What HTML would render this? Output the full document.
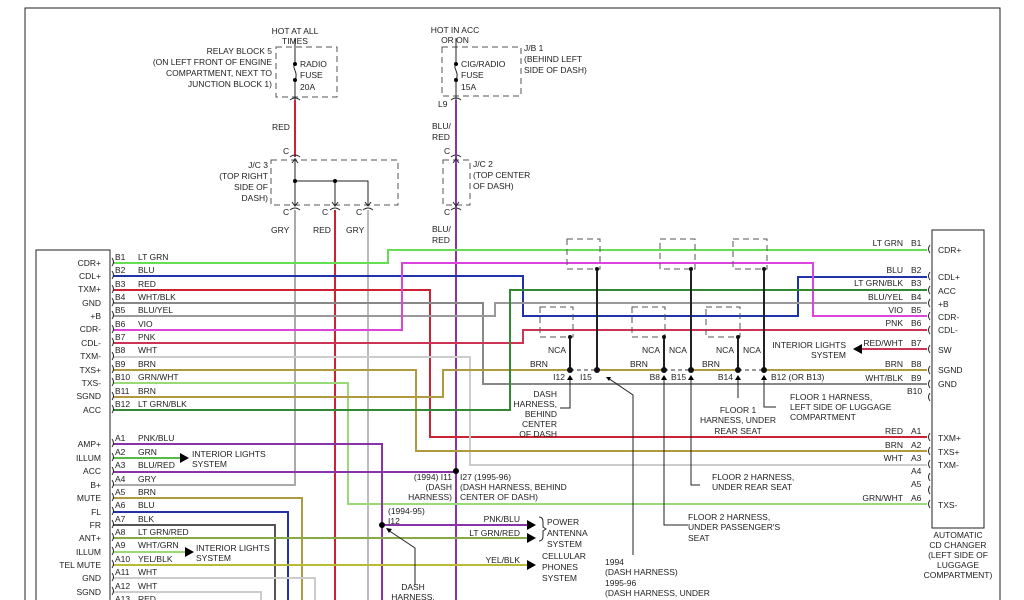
<!DOCTYPE html>
<html><head><meta charset="utf-8"><style>
html,body{margin:0;padding:0;background:#fff;width:1024px;height:600px;overflow:hidden}
svg{display:block}
text{font-family:"Liberation Sans",sans-serif;font-size:8.5px;fill:#222}
.r{text-anchor:end}.m{text-anchor:middle}
.d{fill:none;stroke:#555;stroke-width:1;stroke-dasharray:6,4}
.w{fill:none;stroke-width:2}
.k{fill:none;stroke:#222;stroke-width:1}
</style></head><body>
<svg width="1024" height="600" viewBox="0 0 1024 600">
<!-- frame -->
<path d="M25,600V8H1000V600" class="k"/>
<rect x="36" y="250" width="74" height="360" class="k"/>
<rect x="932" y="230" width="52" height="298" class="k"/>

<!-- top fuses -->
<text x="295" y="34" class="m">HOT AT ALL</text><text x="295" y="44" class="m">TIMES</text>
<rect x="276" y="47" width="61" height="50" class="d"/>
<text x="272" y="54" class="r">RELAY BLOCK 5</text><text x="272" y="65" class="r">(ON LEFT FRONT OF ENGINE</text>
<text x="272" y="76" class="r">COMPARTMENT, NEXT TO</text><text x="272" y="87" class="r">JUNCTION BLOCK 1)</text>
<path d="M295,38V64M295,80V100" class="k"/><path d="M295,64c-4,4 4,8 0,16" class="k"/>
<circle cx="295" cy="64" r="2"/><circle cx="295" cy="80" r="2"/>
<text x="300" y="67">RADIO</text><text x="300" y="78">FUSE</text><text x="300" y="90">20A</text>
<path d="M290,100q5,-4 10,0" class="k"/>
<path d="M295,100V157" stroke="#cc2233" stroke-width="2"/>
<text x="272" y="130">RED</text><text x="283" y="154">C</text>
<path d="M290,157q5,-4 10,0" class="k"/>
<rect x="271" y="160" width="127" height="45" class="d"/>
<text x="268" y="168" class="r">J/C 3</text><text x="268" y="179" class="r">(TOP RIGHT</text><text x="268" y="190" class="r">SIDE OF</text><text x="268" y="201" class="r">DASH)</text>
<path d="M295,158V206M295,181H368V206M335,181V206" class="k"/>
<circle cx="295" cy="181" r="2"/><circle cx="335" cy="181" r="2"/>
<path d="M292,163l3,-4 3,4M292,202l3,4 3,-4M332,202l3,4 3,-4M365,202l3,4 3,-4" class="k"/>
<path d="M290,210q5,-4 10,0M330,210q5,-4 10,0M363,210q5,-4 10,0" class="k"/>
<text x="283" y="215">C</text><text x="322" y="215">C</text><text x="356" y="215">C</text>
<text x="271" y="233">GRY</text><text x="313" y="233">RED</text><text x="346" y="233">GRY</text>

<text x="455" y="33" class="m">HOT IN ACC</text><text x="455" y="43" class="m">OR ON</text>
<rect x="442" y="47" width="79" height="49" class="d"/>
<text x="524" y="51">J/B 1</text><text x="524" y="62">(BEHIND LEFT</text><text x="524" y="73">SIDE OF DASH)</text>
<path d="M456,38V64M456,80V100" class="k"/><path d="M456,64c-4,4 4,8 0,16" class="k"/>
<circle cx="456" cy="64" r="2"/><circle cx="456" cy="80" r="2"/>
<text x="461" y="67">CIG/RADIO</text><text x="461" y="78">FUSE</text><text x="461" y="90">15A</text>
<path d="M451,100q5,-4 10,0" class="k"/>
<text x="438" y="107">L9</text>
<text x="432" y="129">BLU/</text><text x="432" y="140">RED</text><text x="444" y="154">C</text>
<path d="M451,157q5,-4 10,0M451,210q5,-4 10,0" class="k"/>
<rect x="443" y="160" width="27" height="45" class="d"/>
<text x="473" y="167">J/C 2</text><text x="473" y="178">(TOP CENTER</text><text x="473" y="189">OF DASH)</text>
<text x="444" y="215">C</text>
<text x="432" y="232">BLU/</text><text x="432" y="243">RED</text>

<!-- verticals from top -->
<path d="M295,210V485H113" class="w" stroke="#aaa"/>
<path d="M335,210V600" class="w" stroke="#cc2233"/>
<path d="M368,210V600" class="w" stroke="#bbb"/>
<path d="M456,100V600" class="w" stroke="#8833aa"/>
<path d="M453,163l3,-4 3,4M453,202l3,4 3,-4" class="k"/>

<!-- B rows -->
<g font-size="8.5">
<path d="M113,263H388V250H927" class="w" stroke="#66dd55"/>
<path d="M113,276H523V316H798V277H927" class="w" stroke="#2233aa"/>
<path d="M113,290H430V437H927" class="w" stroke="#cc2233"/>
<path d="M113,303H483V384H927" class="w" stroke="#888"/>
<path d="M113,316H495V303H927" class="w" stroke="#999"/>
<path d="M113,330H402V263H813V316H927" class="w" stroke="#dd44dd"/>
<path d="M113,343H523V330H927" class="w" stroke="#cc3355"/>
<path d="M113,357H470V465H927" class="w" stroke="#ccc"/>
<path d="M113,370H416V451H927" class="w" stroke="#b09a40"/>
<path d="M113,383H348V504H927" class="w" stroke="#99d977"/>
<path d="M113,397H443V370H927" class="w" stroke="#b09a40"/>
<path d="M113,410H510V290H927" class="w" stroke="#338833"/>
<path d="M927,349H862" class="w" stroke="#cc3355"/>
<path d="M862,344l-9,5 9,5z"/>
</g>
<!-- shield boxes -->
<g>
<rect x="567" y="239" width="33" height="30" class="d"/><rect x="660" y="239" width="35" height="30" class="d"/><rect x="733" y="239" width="34" height="30" class="d"/>
<rect x="540" y="307" width="33" height="30" class="d"/><rect x="632" y="307" width="33" height="30" class="d"/><rect x="706" y="307" width="34" height="30" class="d"/>
<path d="M597,269V370M691,269V370M764,269V370M570,337V370M664,337V370M738,337V370" stroke="#222" stroke-width="2"/>
<path d="M570,370H597M664,370H691M738,370H764" stroke="#fff" stroke-width="3"/>
<path d="M570,370H597M664,370H691M738,370H764" stroke="#333" stroke-dasharray="4,3"/>
<g fill="#111"><circle cx="570" cy="370" r="3"/><circle cx="597" cy="370" r="3"/><circle cx="664" cy="370" r="3"/><circle cx="691" cy="370" r="3"/><circle cx="738" cy="370" r="3"/><circle cx="764" cy="370" r="3"/>
<circle cx="597" cy="269" r="2"/><circle cx="691" cy="269" r="2"/><circle cx="764" cy="269" r="2"/><circle cx="570" cy="337" r="2"/><circle cx="664" cy="337" r="2"/><circle cx="738" cy="337" r="2"/></g>
<text x="566" y="353" class="r">NCA</text><text x="660" y="353" class="r">NCA</text><text x="669" y="353">NCA</text><text x="734" y="353" class="r">NCA</text><text x="743" y="353">NCA</text>
<text x="530" y="367">BRN</text><text x="630" y="367">BRN</text><text x="702" y="367">BRN</text>
<text x="565" y="380" class="r">I12</text><text x="580" y="380">I15</text><text x="660" y="380" class="r">B8</text><text x="671" y="380">B15</text><text x="733" y="380" class="r">B14</text><text x="771" y="380">B12 (OR B13)</text>
<path d="M567,380l3,-5 3,5zM661,380l3,-5 3,5zM688,380l3,-5 3,5zM735,380l3,-5 3,5zM761,380l3,-5 3,5z"/>
<path d="M570,380V408H560M664,380V525H688M691,380V485H700M738,380V398M764,380V407H776M608,378L633,395V555" class="k"/>
<path d="M606,377l5,0 -2,4z"/>
<text x="557" y="397" class="r">DASH</text><text x="557" y="407" class="r">HARNESS,</text><text x="557" y="417" class="r">BEHIND</text><text x="557" y="427" class="r">CENTER</text><text x="557" y="437" class="r">OF DASH</text>
<text x="790" y="400">FLOOR 1 HARNESS,</text><text x="790" y="410">LEFT SIDE OF LUGGAGE</text><text x="790" y="420">COMPARTMENT</text>
<text x="738" y="413" class="m">FLOOR 1</text><text x="738" y="423" class="m">HARNESS, UNDER</text><text x="738" y="434" class="m">REAR SEAT</text>
<text x="712" y="480">FLOOR 2 HARNESS,</text><text x="712" y="490">UNDER REAR SEAT</text>
<text x="688" y="520">FLOOR 2 HARNESS,</text><text x="688" y="530">UNDER PASSENGER'S</text><text x="688" y="541">SEAT</text>
<text x="605" y="565">1994</text><text x="605" y="575">(DASH HARNESS)</text><text x="605" y="586">1995-96</text><text x="605" y="596">(DASH HARNESS, UNDER</text><text x="605" y="606">RIGHT FRONT SEAT)</text>
</g>

<!-- A rows -->
<path d="M113,444H382V600" class="w" stroke="#8833aa"/>
<path d="M382,525H527" class="w" stroke="#8833aa"/>
<path d="M113,458H180" class="w" stroke="#55bb44"/>
<path d="M113,472H456" class="w" stroke="#8833aa"/>
<path d="M113,498H302V600" class="w" stroke="#b09a40"/>
<path d="M113,512H288V600" class="w" stroke="#2233aa"/>
<path d="M113,525H275V600" class="w" stroke="#555"/>
<path d="M113,538H527" class="w" stroke="#88aa44"/>
<path d="M113,552H185" class="w" stroke="#99d977"/>
<path d="M113,565H527" class="w" stroke="#bbbb33"/>
<path d="M113,578H315V600" class="w" stroke="#ccc"/>
<path d="M113,592H261V600" class="w" stroke="#ccc"/>
<path d="M180,453l9,5 -9,5zM185,547l9,5 -9,5zM527,520l9,5 -9,5zM527,533l9,5 -9,5zM527,560l9,5 -9,5z"/>
<circle cx="456" cy="471" r="3"/><circle cx="382" cy="525" r="3"/>
<path d="M388,530L415,548V585" class="k"/><path d="M386,528l6,1 -3,4z"/>
<text x="192" y="457">INTERIOR LIGHTS</text><text x="192" y="467">SYSTEM</text>
<text x="196" y="551">INTERIOR LIGHTS</text><text x="196" y="561">SYSTEM</text>
<text x="452" y="480" class="r">(1994) I11</text><text x="452" y="490" class="r">(DASH</text><text x="452" y="500" class="r">HARNESS)</text>
<text x="460" y="480">I27 (1995-96)</text><text x="460" y="490">(DASH HARNESS, BEHIND</text><text x="460" y="500">CENTER OF DASH)</text>
<text x="388" y="514">(1994-95)</text><text x="388" y="524">I12</text>
<text x="413" y="590" class="m">DASH</text><text x="413" y="600" class="m">HARNESS,</text>
<text x="520" y="522" class="r">PNK/BLU</text><text x="520" y="536" class="r">LT GRN/RED</text><text x="520" y="563" class="r">YEL/BLK</text>
<text x="547" y="525">POWER</text><text x="547" y="536">ANTENNA</text><text x="547" y="547">SYSTEM</text>
<text x="542" y="559">CELLULAR</text><text x="542" y="570">PHONES</text><text x="542" y="581">SYSTEM</text>
<path d="M539,517q4,0 4,5v5l3,2 -3,2v5q0,5 -4,5" class="k"/>

<!-- left labels -->
<g>
<text x="101" y="266" class="r">CDR+</text><text x="101" y="279" class="r">CDL+</text><text x="101" y="292" class="r">TXM+</text><text x="101" y="306" class="r">GND</text>
<text x="101" y="319" class="r">+B</text><text x="101" y="332" class="r">CDR-</text><text x="101" y="346" class="r">CDL-</text><text x="101" y="359" class="r">TXM-</text>
<text x="101" y="373" class="r">TXS+</text><text x="101" y="386" class="r">TXS-</text><text x="101" y="399" class="r">SGND</text><text x="101" y="413" class="r">ACC</text>
<text x="101" y="447" class="r">AMP+</text><text x="101" y="461" class="r">ILLUM</text><text x="101" y="474" class="r">ACC</text><text x="101" y="488" class="r">B+</text>
<text x="101" y="501" class="r">MUTE</text><text x="101" y="515" class="r">FL</text><text x="101" y="528" class="r">FR</text><text x="101" y="541" class="r">ANT+</text>
<text x="101" y="555" class="r">ILLUM</text><text x="101" y="568" class="r">TEL MUTE</text><text x="101" y="581" class="r">GND</text><text x="101" y="595" class="r">SGND</text>
</g>
<g>
<text x="115" y="260">B1</text><text x="138" y="260">LT GRN</text><text x="115" y="273">B2</text><text x="138" y="273">BLU</text>
<text x="115" y="287">B3</text><text x="138" y="287">RED</text><text x="115" y="300">B4</text><text x="138" y="300">WHT/BLK</text>
<text x="115" y="313">B5</text><text x="138" y="313">BLU/YEL</text><text x="115" y="327">B6</text><text x="138" y="327">VIO</text>
<text x="115" y="340">B7</text><text x="138" y="340">PNK</text><text x="115" y="353">B8</text><text x="138" y="353">WHT</text>
<text x="115" y="367">B9</text><text x="138" y="367">BRN</text><text x="115" y="380">B10</text><text x="138" y="380">GRN/WHT</text>
<text x="115" y="394">B11</text><text x="138" y="394">BRN</text><text x="115" y="407">B12</text><text x="138" y="407">LT GRN/BLK</text>
<text x="115" y="441">A1</text><text x="138" y="441">PNK/BLU</text><text x="115" y="455">A2</text><text x="138" y="455">GRN</text>
<text x="115" y="468">A3</text><text x="138" y="468">BLU/RED</text><text x="115" y="482">A4</text><text x="138" y="482">GRY</text>
<text x="115" y="495">A5</text><text x="138" y="495">BRN</text><text x="115" y="508">A6</text><text x="138" y="508">BLU</text>
<text x="115" y="522">A7</text><text x="138" y="522">BLK</text><text x="115" y="535">A8</text><text x="138" y="535">LT GRN/RED</text>
<text x="115" y="548">A9</text><text x="138" y="548">WHT/GRN</text><text x="115" y="562">A10</text><text x="138" y="562">YEL/BLK</text>
<text x="115" y="575">A11</text><text x="138" y="575">WHT</text><text x="115" y="589">A12</text><text x="138" y="589">WHT</text>
<text x="115" y="602">A13</text><text x="138" y="602">RED</text>
</g>

<!-- right labels -->
<g>
<text x="903" y="246" class="r">LT GRN</text><text x="911" y="246">B1</text>
<text x="903" y="273" class="r">BLU</text><text x="911" y="273">B2</text>
<text x="903" y="286" class="r">LT GRN/BLK</text><text x="911" y="286">B3</text>
<text x="903" y="300" class="r">BLU/YEL</text><text x="911" y="300">B4</text>
<text x="903" y="313" class="r">VIO</text><text x="911" y="313">B5</text>
<text x="903" y="326" class="r">PNK</text><text x="911" y="326">B6</text>
<text x="903" y="346" class="r">RED/WHT</text><text x="911" y="346">B7</text>
<text x="846" y="348" class="r">INTERIOR LIGHTS</text><text x="846" y="358" class="r">SYSTEM</text>
<text x="903" y="367" class="r">BRN</text><text x="911" y="367">B8</text>
<text x="903" y="381" class="r">WHT/BLK</text><text x="911" y="381">B9</text>
<text x="907" y="394">B10</text>
<text x="903" y="434" class="r">RED</text><text x="911" y="434">A1</text>
<text x="903" y="448" class="r">BRN</text><text x="911" y="448">A2</text>
<text x="903" y="461" class="r">WHT</text><text x="911" y="461">A3</text>
<text x="911" y="474">A4</text><text x="911" y="487">A5</text>
<text x="903" y="501" class="r">GRN/WHT</text><text x="911" y="501">A6</text>
<text x="938" y="253">CDR+</text><text x="938" y="280">CDL+</text><text x="938" y="294">ACC</text><text x="938" y="307">+B</text>
<text x="938" y="320">CDR-</text><text x="938" y="333">CDL-</text><text x="938" y="353">SW</text><text x="938" y="373">SGND</text><text x="938" y="387">GND</text>
<text x="938" y="441">TXM+</text><text x="938" y="455">TXS+</text><text x="938" y="468">TXM-</text><text x="938" y="508">TXS-</text>
<text x="958" y="538" class="m">AUTOMATIC</text><text x="958" y="548" class="m">CD CHANGER</text><text x="958" y="558" class="m">(LEFT SIDE OF</text><text x="958" y="568" class="m">LUGGAGE</text><text x="958" y="578" class="m">COMPARTMENT)</text>
</g>
<!-- connector marks -->
<g class="k">
<path d="M112,258q3,4 0,8M112,271q3,4 0,8M112,285q3,4 0,8M112,298q3,4 0,8M112,311q3,4 0,8M112,325q3,4 0,8M112,338q3,4 0,8M112,352q3,4 0,8M112,365q3,4 0,8M112,378q3,4 0,8M112,392q3,4 0,8M112,405q3,4 0,8"/>
<path d="M112,439q3,4 0,8M112,453q3,4 0,8M112,467q3,4 0,8M112,480q3,4 0,8M112,493q3,4 0,8M112,507q3,4 0,8M112,520q3,4 0,8M112,533q3,4 0,8M112,547q3,4 0,8M112,560q3,4 0,8M112,573q3,4 0,8M112,587q3,4 0,8"/>
<path d="M930,245q-3,4 0,8M930,272q-3,4 0,8M930,286q-3,4 0,8M930,299q-3,4 0,8M930,312q-3,4 0,8M930,326q-3,4 0,8M930,345q-3,4 0,8M930,366q-3,4 0,8M930,380q-3,4 0,8M930,393q-3,4 0,8M930,433q-3,4 0,8M930,447q-3,4 0,8M930,460q-3,4 0,8M930,473q-3,4 0,8M930,486q-3,4 0,8M930,500q-3,4 0,8"/>
</g>
</svg>
</body></html>
